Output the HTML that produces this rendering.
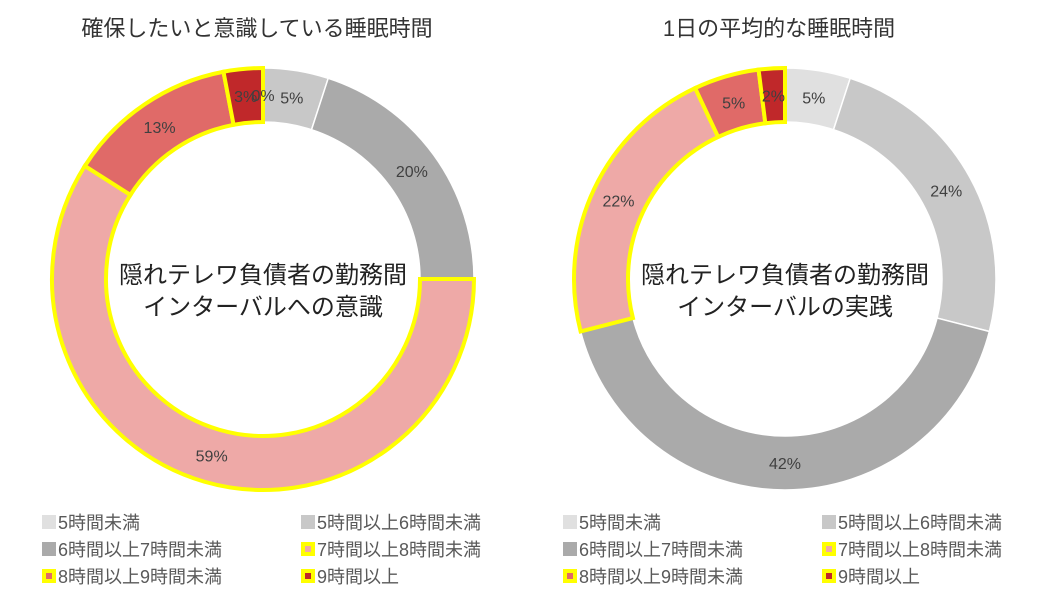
<!DOCTYPE html>
<html><head><meta charset="utf-8"><style>
body{margin:0;background:#fff;width:1040px;height:590px;overflow:hidden;font-family:"Liberation Sans","Noto Sans CJK JP",sans-serif}
svg text{font-family:"Liberation Sans","Noto Sans CJK JP",sans-serif}
</style></head><body>
<svg id="c" width="1040" height="590"></svg>
<script>
const categories=["5時間未満","5時間以上6時間未満","6時間以上7時間未満","7時間以上8時間未満","8時間以上9時間未満","9時間以上"];
const leftValues=[0,5,20,59,13,3];
const rightValues=[5,24,42,22,5,2];
const leftTitle="確保したいと意識している睡眠時間";
const rightTitle="1日の平均的な睡眠時間";
const leftCenter=["隠れテレワ負債者の勤務間","インターバルへの意識"];
const rightCenter=["隠れテレワ負債者の勤務間","インターバルの実践"];
const colors=["#e0e0e0","#c8c8c8","#aaaaaa","#eea9a7","#e06a68","#c0282a"];
const bordered=[false,false,false,true,true,true];
const NS="http://www.w3.org/2000/svg";
const svg=document.getElementById('c');
function mk(t,a,p){const e=document.createElementNS(NS,t);for(const k in a)e.setAttribute(k,a[k]);(p||svg).appendChild(e);return e;}
function pt(cx,cy,r,f){const a=f*2*Math.PI-Math.PI/2;return [cx+r*Math.cos(a),cy+r*Math.sin(a)];}
function donut(cx,cy,vals,title,center,side){
  const g=mk('g',{});
  
  
  const t=mk('text',{x:cx-6,y:36,'text-anchor':'middle','font-size':22,fill:'#333'},g);t.textContent=title;
  
  
  const total=vals.reduce((a,b)=>a+b,0);const R=211,r=157;
  let acc=0;const segs=[];
  vals.forEach((v,i)=>{segs.push([acc/total,(acc+v)/total,v,i]);acc+=v;});
  const order=segs.filter(s=>!bordered[s[3]]).concat(segs.filter(s=>bordered[s[3]]));
  order.forEach(([a,b,v,i])=>{
    if(v<=0)return;
    const [x1,y1]=pt(cx,cy,R,a),[x2,y2]=pt(cx,cy,R,b),[x3,y3]=pt(cx,cy,r,b),[x4,y4]=pt(cx,cy,r,a);
    const lg=(b-a)>0.5?1:0;
    const p=mk('path',{d:`M${x1},${y1}A${R},${R} 0 ${lg} 1 ${x2},${y2}L${x3},${y3}A${r},${r} 0 ${lg} 0 ${x4},${y4}Z`,fill:colors[i],stroke:bordered[i]?'#ffff00':'#fff','stroke-width':bordered[i]?4:1.5,'stroke-linejoin':'miter'},g);
    
    
  });
  segs.forEach(([a,b,v,i])=>{
    const [x,y]=pt(cx,cy,184,(a+b)/2);
    const l=mk('text',{x:x,y:y+6,'text-anchor':'middle','font-size':16,fill:'#404040'},g);l.textContent=v+'%';
    
    
  });
  center.forEach((s,k)=>{
    const c=mk('text',{x:cx,y:cy+4+k*32,'text-anchor':'middle','font-size':24,fill:'#222'},g);c.textContent=s;
    
    
  });
  categories.forEach((c,i)=>{
    const lx=(side==='left'?42:563)+(i%2)*259, ly=522+Math.floor(i/2)*27;
    const lg=mk('g',{},g);
    
    
    if(bordered[i]){mk('rect',{x:lx,y:ly-7,width:14,height:14,fill:'#ffff00'},lg);mk('rect',{x:lx+4,y:ly-3,width:6,height:6,fill:colors[i]},lg);}
    else mk('rect',{x:lx,y:ly-7,width:14,height:14,fill:colors[i]},lg);
    const tt=mk('text',{x:lx+16,y:ly+7,'font-size':18,fill:'#595959'},lg);tt.textContent=c;
  });
}
donut(263,279,leftValues,leftTitle,leftCenter,'left');
donut(785,279,rightValues,rightTitle,rightCenter,'right');
</script>
</body></html>
